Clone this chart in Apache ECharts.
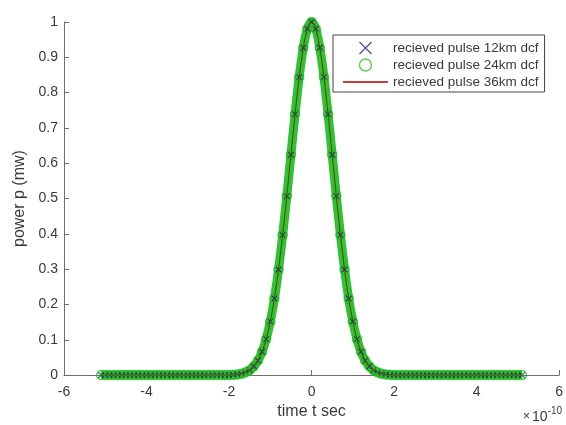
<!DOCTYPE html>
<html>
<head>
<meta charset="utf-8">
<script src="https://cdn.jsdelivr.net/npm/echarts@6/dist/echarts.min.js"></script>
<style>
html,body{margin:0;padding:0;background:#fff;}
#chart{width:566px;height:425px;}
</style>
</head>
<body>
<div id="chart"></div>
<script>
// time axis values, in units of 1e-10 s
const times = [-5.1,-5.0,-4.9,-4.8,-4.7,-4.6,-4.5,-4.4,-4.3,-4.2,-4.1,-4.0,-3.9,-3.8,-3.7,-3.6,-3.5,-3.4,-3.3,-3.2,-3.1,-3.0,-2.9,-2.8,-2.7,-2.6,-2.5,-2.4,-2.3,-2.2,-2.1,-2.0,
  -1.9,-1.8,-1.7,-1.6,-1.5,-1.4,-1.3,-1.2,-1.1,-1.0,-0.9,-0.8,-0.7,-0.6,-0.5,-0.4,-0.3,-0.2,-0.1,0,
  0.1,0.2,0.3,0.4,0.5,0.6,0.7,0.8,0.9,1.0,1.1,1.2,1.3,1.4,1.5,1.6,1.7,1.8,1.9,
  2.0,2.1,2.2,2.3,2.4,2.5,2.6,2.7,2.8,2.9,3.0,3.1,3.2,3.3,3.4,3.5,3.6,3.7,3.8,3.9,4.0,4.1,4.2,4.3,4.4,4.5,4.6,4.7,4.8,4.9,5.0,5.1];

const power12 = [0,0,0,0,0,0,0,0,0,0,0,0,0,0,0,0,0,0,0,0,0,0,0,0,0,0,0,0,0,0,0,0,
  0.001,0.002,0.004,0.008,0.014,0.025,0.041,0.066,0.102,0.152,0.217,0.299,0.397,0.507,0.624,0.739,0.844,0.927,0.981,1,
  0.981,0.927,0.844,0.739,0.624,0.507,0.397,0.299,0.217,0.152,0.102,0.066,0.041,0.025,0.014,0.008,0.004,0.002,0.001,
  0,0,0,0,0,0,0,0,0,0,0,0,0,0,0,0,0,0,0,0,0,0,0,0,0,0,0,0,0,0,0,0];

const power24 = [0,0,0,0,0,0,0,0,0,0,0,0,0,0,0,0,0,0,0,0,0,0,0,0,0,0,0,0,0,0,0,0,
  0.001,0.002,0.004,0.008,0.014,0.025,0.041,0.066,0.102,0.152,0.217,0.299,0.397,0.507,0.624,0.739,0.844,0.927,0.981,1,
  0.981,0.927,0.844,0.739,0.624,0.507,0.397,0.299,0.217,0.152,0.102,0.066,0.041,0.025,0.014,0.008,0.004,0.002,0.001,
  0,0,0,0,0,0,0,0,0,0,0,0,0,0,0,0,0,0,0,0,0,0,0,0,0,0,0,0,0,0,0,0];

const power36 = [0,0,0,0,0,0,0,0,0,0,0,0,0,0,0,0,0,0,0,0,0,0,0,0,0,0,0,0,0,0,0,0,
  0.001,0.002,0.004,0.008,0.014,0.025,0.041,0.066,0.102,0.152,0.217,0.299,0.397,0.507,0.624,0.739,0.844,0.927,0.981,1,
  0.981,0.927,0.844,0.739,0.624,0.507,0.397,0.299,0.217,0.152,0.102,0.066,0.041,0.025,0.014,0.008,0.004,0.002,0.001,
  0,0,0,0,0,0,0,0,0,0,0,0,0,0,0,0,0,0,0,0,0,0,0,0,0,0,0,0,0,0,0,0];

const seriesNames = ['recieved pulse 12km dcf', 'recieved pulse 24km dcf', 'recieved pulse 36km dcf'];
const xTicks = { min: -6, max: 6, interval: 2 };
const yTicks = { min: 0, max: 1, interval: 0.1 };

const pairs = arr => times.map((t, i) => [t, arr[i]]);

const FONT = 'Liberation Sans, Arial, sans-serif';
const AXIS_COLOR = '#6e6e6e';
const TEXT_COLOR = '#3a3a3a';
const GREEN = '#2fc42f';
const BLUE = '#2c3480';
const RED = '#c8403a';
const X_PATH = 'path://M0,0L10,10M10,0L0,10';
const LINE_PATH = 'path://M0,0L40,0L40,1.6L0,1.6Z';

const chart = echarts.init(document.getElementById('chart'), null, { renderer: 'canvas' });
chart.setOption({
  animation: false,
  backgroundColor: '#fff',
  textStyle: { fontFamily: FONT },
  grid: { left: 64, right: 4, top: 22, bottom: 46, containLabel: false },
  xAxis: {
    type: 'value', min: xTicks.min, max: xTicks.max, interval: xTicks.interval,
    name: 'time t sec', nameLocation: 'middle', nameGap: 28,
    nameTextStyle: { fontSize: 16, color: TEXT_COLOR, fontFamily: FONT },
    axisLine: { show: true, onZero: false, lineStyle: { color: AXIS_COLOR, width: 1 } },
    axisTick: { show: true, inside: true, length: 5, lineStyle: { color: AXIS_COLOR } },
    axisLabel: { fontSize: 14, color: TEXT_COLOR, margin: 10, fontFamily: FONT },
    splitLine: { show: false }
  },
  yAxis: {
    type: 'value', min: yTicks.min, max: yTicks.max, interval: yTicks.interval,
    name: 'power p (mw)', nameLocation: 'middle', nameGap: 31,
    nameTextStyle: { fontSize: 16, color: TEXT_COLOR, fontFamily: FONT },
    axisLine: { show: true, onZero: false, lineStyle: { color: AXIS_COLOR, width: 1 } },
    axisTick: { show: true, inside: true, length: 5, lineStyle: { color: AXIS_COLOR } },
    axisLabel: { fontSize: 14, color: TEXT_COLOR, margin: 6, fontFamily: FONT,
      formatter: v => String(+v.toFixed(1)) },
    splitLine: { show: false }
  },
  legend: {
    orient: 'vertical', left: 333, top: 35,
    padding: [6, 6, 3, 10],
    itemWidth: 45, itemHeight: 12, itemGap: 3,
    backgroundColor: '#fff', borderColor: '#444', borderWidth: 1, borderRadius: 0,
    textStyle: { fontSize: 13.5, color: TEXT_COLOR, fontFamily: FONT, lineHeight: 13 },
    selectedMode: false,
    data: [
      { name: seriesNames[0], icon: X_PATH,
        itemStyle: { color: 'transparent', borderColor: BLUE, borderWidth: 1.5 } },
      { name: seriesNames[1], icon: 'circle',
        itemStyle: { color: 'transparent', borderColor: GREEN, borderWidth: 1.5 } },
      { name: seriesNames[2], icon: LINE_PATH,
        itemStyle: { color: RED, borderWidth: 0 } }
    ]
  },
  series: [
    {
      // continuous band formed by the densely packed 24km circle markers
      name: 'band24', type: 'line', data: pairs(power24), smooth: 0.3,
      showSymbol: false, symbol: 'none', z: 1, silent: true,
      lineStyle: { color: GREEN, width: 9 }
    },
    {
      name: seriesNames[0], type: 'scatter', data: pairs(power12), z: 2,
      symbol: X_PATH, symbolSize: 6, symbolKeepAspect: true,
      itemStyle: { color: 'transparent', borderColor: '#1f2a55', borderWidth: 1.2 }
    },
    {
      name: seriesNames[1], type: 'scatter', data: pairs(power24), z: 3,
      symbol: 'circle', symbolSize: 9,
      itemStyle: { color: 'transparent', borderColor: '#29b829', borderWidth: 1.5 }
    },
    {
      name: seriesNames[2], type: 'line', data: pairs(power36), z: 4,
      smooth: 0.3, showSymbol: false, symbol: 'none',
      lineStyle: { color: '#6a3020', width: 1.2, opacity: 0.8 }, itemStyle: { color: RED }
    }
  ],
  graphic: [
    {
      type: 'text', right: 4, top: 406,
      style: {
        text: '{a|×}{b|10}{c|-10}',
        rich: {
          a: { fontSize: 12, fill: TEXT_COLOR, fontFamily: FONT, padding: [6, 2, 0, 0] },
          b: { fontSize: 14, fill: TEXT_COLOR, fontFamily: FONT, padding: [6, 0, 0, 0] },
          c: { fontSize: 10, fill: TEXT_COLOR, fontFamily: FONT, padding: [0, 0, 6, 0] }
        }
      }
    }
  ]
});
</script>
</body>
</html>
